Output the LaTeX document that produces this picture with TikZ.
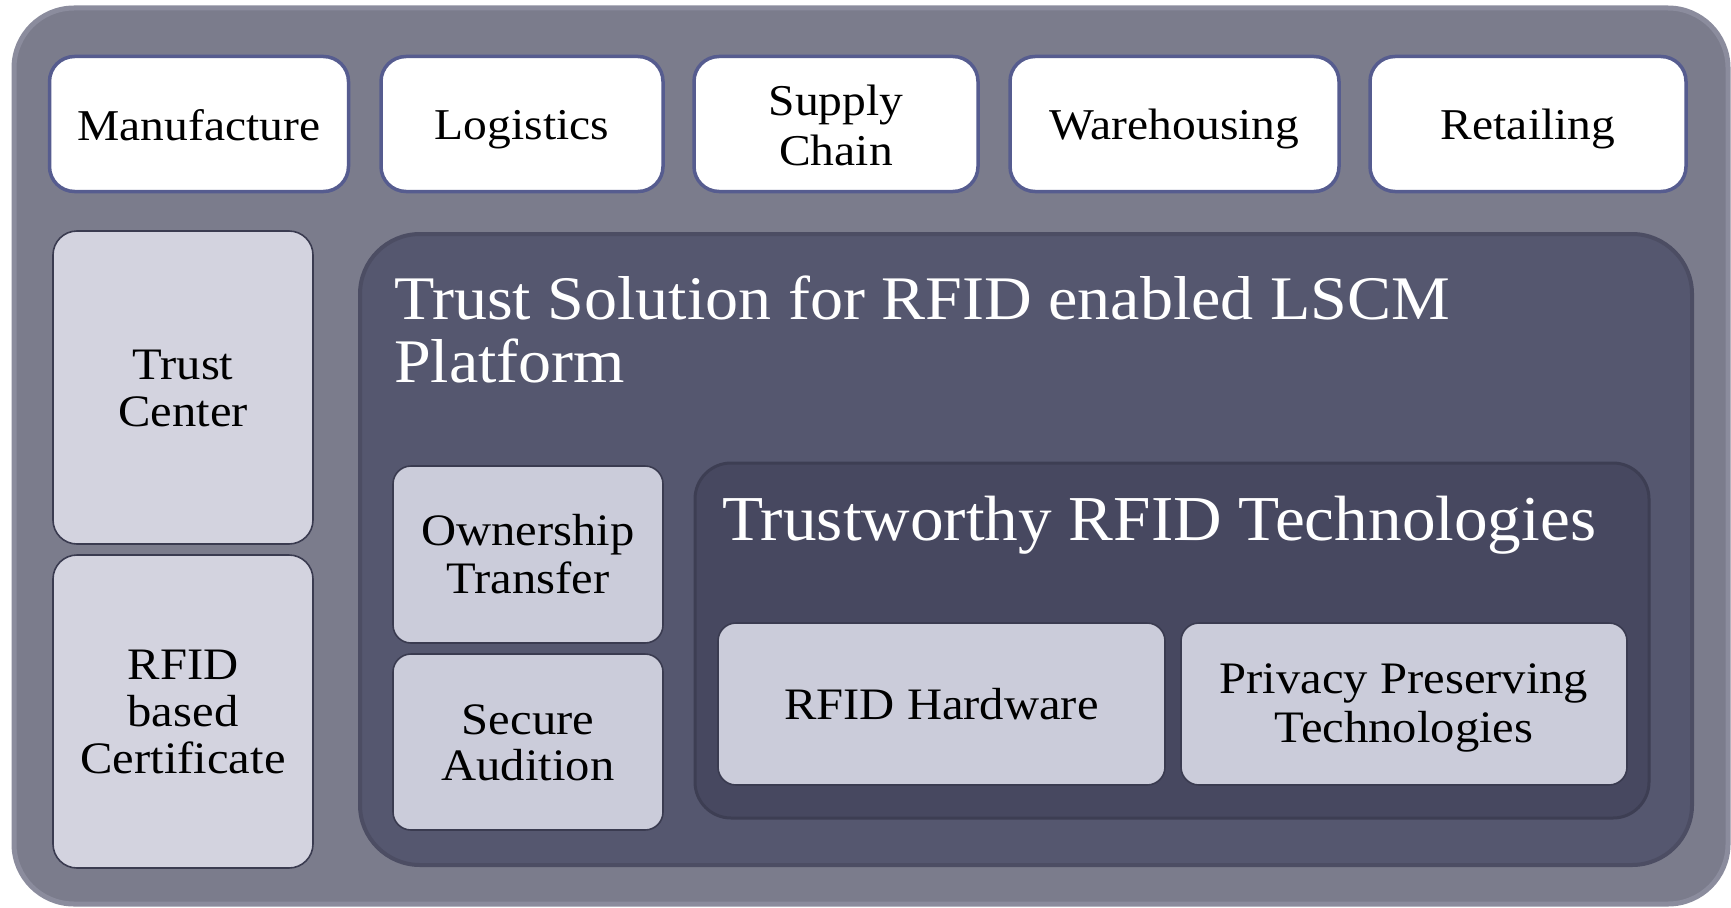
\documentclass[tikz,border=0pt]{standalone}
\usepackage{fontspec}
\setmainfont[FakeStretch=1.08]{Liberation Serif}
\newfontfamily\titleA[FakeStretch=1.065]{Liberation Serif}
\newfontfamily\titleB[FakeStretch=1.05]{Liberation Serif}
\definecolor{outerfill}{HTML}{7B7C8C}
\definecolor{outerrim}{HTML}{8B8C9D}
\definecolor{topedge}{HTML}{565C8F}
\definecolor{lightA}{HTML}{D3D3DF}
\definecolor{lightB}{HTML}{CBCCDA}
\definecolor{boxedge}{HTML}{3A3B50}
\definecolor{midfill}{HTML}{55576F}
\definecolor{midedge}{HTML}{4C4D63}
\definecolor{innerfill}{HTML}{474860}
\definecolor{inneredge}{HTML}{3D3E53}
\newcommand\topstrut{\rule[-8pt]{0pt}{48pt}}
\newcommand\boxstrut{\rule[-8pt]{0pt}{46pt}}
\tikzset{
  topbox/.style={draw=topedge, line width=3.5pt, fill=white, rounded corners=25pt,
    inner sep=0pt, align=center, text=black, font=\fontsize{44}{50}\selectfont},
  sidebox/.style={draw=boxedge, line width=1.6pt, fill=lightA, rounded corners=24pt,
    inner sep=0pt, align=center, text=black, font=\fontsize{45}{47}\selectfont},
  subbox/.style={draw=boxedge, line width=1.6pt, fill=lightB, rounded corners=18pt,
    inner sep=0pt, align=center, text=black, font=\fontsize{45}{46}\selectfont},
  panel/.style={inner sep=0pt},
}
\begin{document}
\begin{tikzpicture}[x=1pt,y=-1pt]
\useasboundingbox (0,0) rectangle (1731,907);
\fill[white] (0,0) rectangle (1731,907);
% outer frame
\node[panel, draw=outerrim, line width=5pt, fill=outerfill, rounded corners=60pt,
  minimum width=1714pt, minimum height=896pt] (frame) at (871,456) {};
% top row
\node[topbox, minimum width=299pt, minimum height=135pt] (manu) at (199,124) {\topstrut Manufacture\topstrut};
\node[topbox, minimum width=282pt, minimum height=135pt] (logi) at (522,124) {\topstrut Logistics\topstrut};
\node[topbox, minimum width=284pt, minimum height=135pt] (supp) at (836,124) {\topstrut Supply\\Chain\topstrut};
\node[topbox, minimum width=329pt, minimum height=135pt] (ware) at (1174.5,124) {\topstrut Warehousing\topstrut};
\node[topbox, minimum width=316pt, minimum height=135pt] (reta) at (1528,124) {\topstrut Retailing\topstrut};
% left column
\node[sidebox, minimum width=260pt, minimum height=313pt] (tc) at (183,387.5) {\boxstrut Trust\\Center\boxstrut};
\node[sidebox, minimum width=260pt, minimum height=313pt] (cert) at (183,711.5) {\boxstrut RFID\\based\\Certificate\boxstrut};
% middle panel
\node[panel, draw=midedge, line width=4pt, fill=midfill, rounded corners=60pt,
  minimum width=1332pt, minimum height=631pt] (mid) at (1026,549.5) {};
\node[anchor=north west, inner sep=0pt, text=white, align=left,
  font=\titleA\fontsize{62}{63}\selectfont] (midtitle) at (394,269)
  {\rule{0pt}{50pt}Trust Solution for RFID enabled LSCM\\Platform};
\node[subbox, minimum width=270pt, minimum height=177pt] (own) at (528,554.5) {\boxstrut Ownership\\Transfer\boxstrut};
\node[subbox, minimum width=270pt, minimum height=176pt] (aud) at (528,742) {\boxstrut Secure\\Audition\boxstrut};
% inner panel
\node[panel, draw=inneredge, line width=3pt, fill=innerfill, rounded corners=36pt,
  minimum width=954pt, minimum height=355pt] (inner) at (1172,640.5) {};
\node[anchor=base west, inner sep=0pt, text=white,
  font=\titleB\fontsize{64}{64}\selectfont] (innertitle) at (722,540)
  {Trustworthy RFID Technologies};
\node[subbox, minimum width=447pt, minimum height=162pt] (hw) at (941.5,704) {\boxstrut RFID Hardware\boxstrut};
\node[subbox, minimum width=446pt, minimum height=162pt] (priv) at (1404,704) {\boxstrut Privacy Preserving\\Technologies\boxstrut};
\end{tikzpicture}
\end{document}
